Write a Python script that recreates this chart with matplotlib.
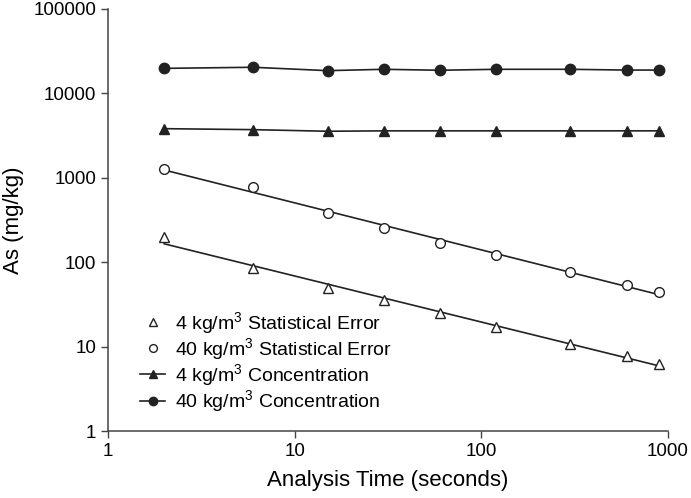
import numpy as np
import matplotlib
matplotlib.use("Agg")
import matplotlib.pyplot as plt
from matplotlib.ticker import FixedLocator, FixedFormatter, NullLocator

plt.rcParams['font.family'] = ['Liberation Sans', 'DejaVu Sans']
plt.rcParams['mathtext.fontset'] = 'custom'
plt.rcParams['mathtext.rm'] = 'Liberation Sans'
plt.rcParams['mathtext.default'] = 'regular'

# analysis times (s)
times = [2, 6, 15, 30, 60, 120, 300, 600, 900]
# statistical error (mg/kg)
err_4 = [197, 86, 49, 35.6, 24.8, 17.2, 10.8, 7.7, 6.3]
err_40 = [1260, 780, 380, 252, 167, 122, 76, 54, 44]
# measured concentration (mg/kg)
conc_4 = [3820, 3720, 3560, 3600, 3600, 3600, 3600, 3600, 3600]
conc_40 = [19800, 20400, 18600, 19300, 18800, 19300, 19300, 18900, 18900]

labels = ["4 kg/m$^3$ Statistical Error", "40 kg/m$^3$ Statistical Error",
          "4 kg/m$^3$ Concentration", "40 kg/m$^3$ Concentration"]

col = '#222222'
fig = plt.figure(figsize=(6.91, 4.98), dpi=100)
ax = fig.add_axes([108/691, 1-431/498, 560/691, 422/498])

t = np.array(times, float)
# power-law fits for the error series
for e in (err_4, err_40):
    p = np.polyfit(np.log10(t), np.log10(e), 1)
    ax.plot(t, 10**np.polyval(p, np.log10(t)), color=col, lw=1.2, zorder=1)

h1, = ax.plot(times, err_4, ls='none', marker='^', ms=6.5, mfc='white', mec=col, mew=1.0)
h2, = ax.plot(times, err_40, ls='none', marker='o', ms=7, mfc='white', mec=col, mew=1.0)
h3, = ax.plot(times, conc_4, color=col, lw=1.2, marker='^', ms=7.5, mfc=col, mec=col)
h4, = ax.plot(times, conc_40, color=col, lw=1.2, marker='o', ms=7.5, mfc=col, mec=col)

ax.set_xscale('log')
ax.set_yscale('log')
ax.set_xlim(1, 1000)
ax.set_ylim(1, 100000)
ax.xaxis.set_major_locator(FixedLocator([1, 10, 100, 1000]))
ax.xaxis.set_major_formatter(FixedFormatter(['1', '10', '100', '1000']))
ax.yaxis.set_major_locator(FixedLocator([1, 10, 100, 1000, 10000, 100000]))
ax.yaxis.set_major_formatter(FixedFormatter(['1', '10', '100', '1000', '10000', '100000']))
ax.xaxis.set_minor_locator(NullLocator())
ax.yaxis.set_minor_locator(NullLocator())
ax.tick_params(labelsize=13.5, length=5, width=1, color='#444444', direction='out')
ax.spines['top'].set_visible(False)
ax.spines['right'].set_visible(False)
for s in ('left', 'bottom'):
    ax.spines[s].set_color('#444444')
    ax.spines[s].set_linewidth(1.1)

ax.set_xlabel('Analysis Time (seconds)', fontsize=16, labelpad=7)
ax.set_ylabel('As (mg/kg)', fontsize=16, labelpad=7)

fig.legend([h1, h2, h3, h4], labels, loc='center left', bbox_to_anchor=(140/691, 1-362/498),
           frameon=False, fontsize=14, handlelength=1.3, handletextpad=0.5,
           labelspacing=0.02, borderpad=0, borderaxespad=0, numpoints=1, markerscale=0.8)

fig.savefig('out.png', dpi=100)
